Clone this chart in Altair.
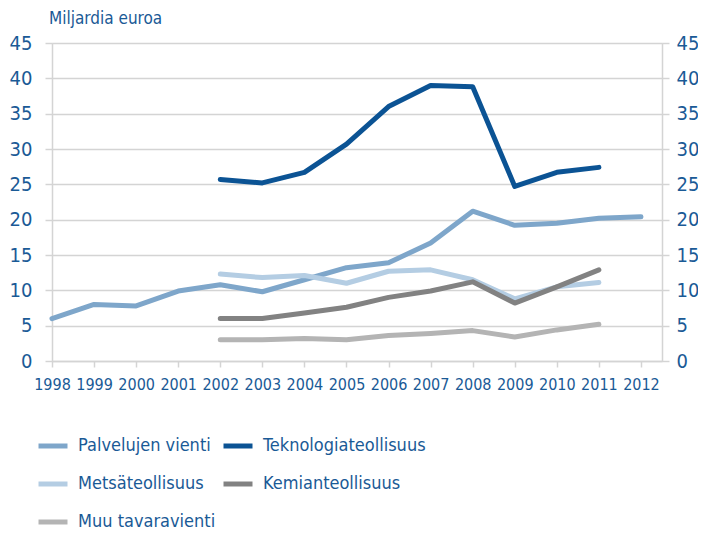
import altair as alt
import pandas as pd

years = list(range(1998, 2013))
series_names = ["Palvelujen vienti", "Metsäteollisuus", "Muu tavaravienti",
                "Teknologiateollisuus", "Kemianteollisuus"]
palvelujen = [6.0, 8.0, 7.8, 9.9, 10.8, 9.8, 11.5, 13.2, 13.9, 16.7, 21.2, 19.2, 19.5, 20.2, 20.4]
metsa = [None, None, None, None, 12.3, 11.8, 12.1, 11.0, 12.7, 12.9, 11.5, 8.8, 10.5, 11.1, None]
muu = [None, None, None, None, 3.0, 3.0, 3.2, 3.0, 3.6, 3.9, 4.3, 3.4, 4.4, 5.2, None]
teknologia = [None, None, None, None, 25.7, 25.2, 26.7, 30.7, 36.0, 39.0, 38.8, 24.7, 26.7, 27.4, None]
kemian = [None, None, None, None, 6.0, 6.0, 6.8, 7.6, 9.0, 9.9, 11.2, 8.2, 10.5, 12.9, None]
colors = ["#7ea6ca", "#b4cde3", "#b4b4b4", "#0b5394", "#828282"]

rows = []
for name, vals in zip(series_names, [palvelujen, metsa, muu, teknologia, kemian]):
    for y, v in zip(years, vals):
        if v is not None:
            rows.append({"year": y, "value": v, "series": name})
df = pd.DataFrame(rows)

FONT = "Liberation Sans Narrow, DejaVu Sans Condensed, Noto Sans"
TXT = "#1a5a96"
GRID = "#d4d4d4"

xscale = alt.Scale(domain=[1998, 2012.5], nice=False, zero=False)
yscale = alt.Scale(domain=[0, 45], nice=False)

xaxis = alt.Axis(values=years, format="d", title=None, grid=False, labelFontSize=16,
                 labelColor=TXT, labelFont=FONT, domainColor=GRID, tickColor=GRID,
                 tickSize=6, labelPadding=9, domainWidth=1.5, tickWidth=1.5,
                 labelOverlap=False, labelFlush=False, labelBound=False)

base = alt.Chart(df)
lines = base.mark_line(strokeWidth=5, strokeCap="round", strokeJoin="round").encode(
    x=alt.X("year:Q", scale=xscale, axis=xaxis),
    y=alt.Y("value:Q", scale=yscale,
            axis=alt.Axis(values=list(range(0, 46, 5)), title=None, orient="left",
                          labelFontSize=20, labelColor=TXT, labelFont=FONT,
                          gridColor=GRID, gridWidth=1.5, domainColor=GRID, tickColor=GRID,
                          tickSize=7, labelPadding=13, domainWidth=1.5, tickWidth=1.5)),
    color=alt.Color("series:N", sort=series_names,
                    scale=alt.Scale(domain=series_names, range=colors),
                    legend=alt.Legend(orient="none", legendX=-16, legendY=386, columns=2,
                                      title=None, symbolType="stroke", symbolSize=841,
                                      symbolStrokeWidth=5, labelFontSize=18, labelFont=FONT,
                                      labelColor=TXT, labelOffset=8, rowPadding=11,
                                      columnPadding=-3, padding=0, labelLimit=300)),
    detail="series:N",
)

right = base.mark_line(opacity=0).encode(
    x=alt.X("year:Q", scale=xscale, axis=xaxis),
    y=alt.Y("value:Q", scale=yscale,
            axis=alt.Axis(values=list(range(0, 46, 5)), title=None, orient="right", grid=False,
                          labelFontSize=20, labelColor=TXT, labelFont=FONT,
                          domainColor=GRID, tickColor=GRID, tickSize=7, labelPadding=7,
                          domainWidth=1.5, tickWidth=1.5)),
)

chart = alt.layer(lines, right).resolve_scale(y="shared").resolve_axis(y="independent").properties(
    width=610, height=318,
    title=alt.Title("Miljardia euroa", anchor="start", frame="group", fontSize=17, font=FONT,
                    color=TXT, fontWeight="normal", offset=5, dx=-3),
    autosize=alt.AutoSizeParams(type="none"),
    padding={"left": 44, "top": 35, "right": 36, "bottom": 169},
).configure_view(stroke=None).configure(background="white")

chart.save("out.html", embed_options={"renderer": "svg", "actions": False})
